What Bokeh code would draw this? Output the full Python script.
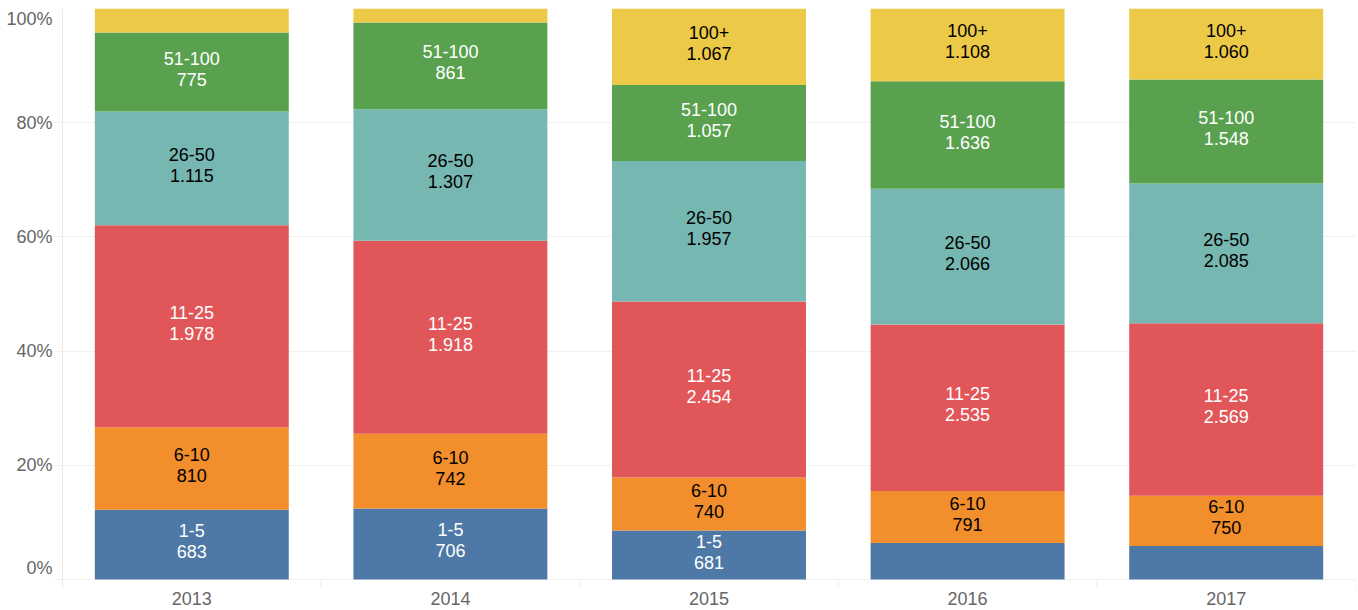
from bokeh.plotting import figure
from bokeh.layouts import row
from bokeh.models import ColumnDataSource, Range1d, FixedTicker
from bokeh.core.properties import value
from bokeh.embed import file_html
from bokeh.resources import INLINE

years = ["2013", "2014", "2015", "2016", "2017"]
groups = ["1-5", "6-10", "11-25", "26-50", "51-100", "100+"]
c_1_5 = [683, 706, 681, 555, 500]
c_6_10 = [810, 742, 740, 791, 750]
c_11_25 = [1978, 1918, 2454, 2535, 2569]
c_26_50 = [1115, 1307, 1957, 2066, 2085]
c_51_100 = [775, 861, 1057, 1636, 1548]
c_100p = [235, 140, 1067, 1108, 1060]
colors = ["#4E79A7", "#F28E2B", "#E15759", "#76B7B2", "#59A14F", "#EDC948"]
label_colors = ["white", "black", "white", "black", "white", "black"]
y_ticks = [0, 0.2, 0.4, 0.6, 0.8, 1.0]
y_tick_labels = ["0%", "20%", "40%", "60%", "80%", "100%"]

counts = [c_1_5, c_6_10, c_11_25, c_26_50, c_51_100, c_100p]
totals = [sum(col) for col in zip(*counts)]
xpos = [i + 0.5 for i in range(len(years))]
data = {"x": xpos}
for g, c in zip(groups, counts):
    data[g] = [v / t for v, t in zip(c, totals)]
src = ColumnDataSource(data)

FONT = "Liberation Sans"
FS = "18px"
AXIS_GRAY = "#666666"
LINE_GRAY = "#ebebeb"
GRID_GRAY = "#f0f0f0"

H = 610
TOP, BOTTOM = 8, 22
yr = Range1d(-9 / 571, 1)

# ---- main chart ----
p = figure(width=1304, height=H, x_range=Range1d(-40 / 1293, len(years)), y_range=yr,
           output_backend="svg", toolbar_location=None, y_axis_location=None,
           min_border_left=0, min_border_right=3, min_border_top=TOP,
           min_border_bottom=BOTTOM)
p.outline_line_color = None
p.background_fill_color = "white"

p.ygrid.ticker = FixedTicker(ticks=y_ticks)
p.ygrid.grid_line_color = GRID_GRAY
p.xgrid.ticker = FixedTicker(ticks=[0])
p.xgrid.grid_line_color = LINE_GRAY

bounds = list(range(1, len(years) + 1))
p.segment(x0=bounds, y0=[yr.start] * len(bounds), x1=bounds, y1=[0] * len(bounds),
          line_color=LINE_GRAY, line_width=1)

p.vbar_stack(groups, x="x", width=0.75, source=src, color=colors, line_color=None)

lx, ly, lt, lc = [], [], [], []
for i in range(len(years)):
    base = 0.0
    for g, c, col in zip(groups, counts, label_colors):
        share = c[i] / totals[i]
        if share >= 0.07:
            lx.append(xpos[i])
            ly.append(base + share / 2)
            lt.append(f"{g}\n{c[i]:,}".replace(",", "."))
            lc.append(col)
        base += share
lsrc = ColumnDataSource(dict(x=lx, y=ly, t=lt, c=lc))
p.text(x="x", y="y", text="t", source=lsrc, text_color="c", text_align="center",
       text_baseline="middle", text_font=value(FONT), text_font_size=FS,
       text_line_height=1.05, y_offset=-3)

xa = p.xaxis[0]
xa.ticker = FixedTicker(ticks=xpos)
xa.major_label_overrides = {x: y for x, y in zip(xpos, years)}
xa.axis_line_color = None
xa.major_tick_line_color = None
xa.minor_tick_line_color = None
xa.major_label_text_font = FONT
xa.major_label_text_font_size = FS
xa.major_label_text_color = AXIS_GRAY
xa.major_label_standoff = -3

# ---- y tick labels panel ----
left = figure(width=54, height=H, x_range=Range1d(0, 1), y_range=yr,
              output_backend="svg", toolbar_location=None,
              x_axis_location=None, y_axis_location=None,
              min_border_left=0, min_border_right=0, min_border_top=TOP,
              min_border_bottom=BOTTOM)
left.outline_line_color = None
left.grid.visible = False
y_offsets = [-12 if t == 0 else (10 if t == 1 else 0) for t in y_ticks]
left.text(x=[1] * len(y_ticks), y=y_ticks, text=y_tick_labels, x_offset=-2,
          y_offset=y_offsets, text_align="right", text_baseline="middle",
          text_font=value(FONT), text_font_size=FS, text_color=AXIS_GRAY)

layout = row(left, p, spacing=0)
open("out.html", "w").write(file_html(layout, INLINE))
